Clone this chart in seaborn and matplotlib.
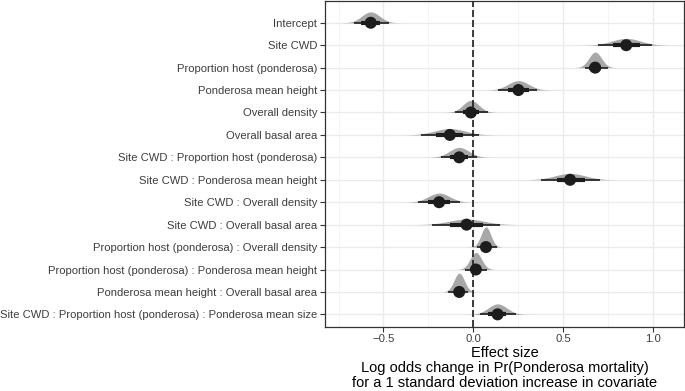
import matplotlib
matplotlib.use("Agg")
import matplotlib.pyplot as plt
import seaborn as sns
import numpy as np
import pandas as pd

# covariate labels (top to bottom)
terms = [
    "Intercept",
    "Site CWD",
    "Proportion host (ponderosa)",
    "Ponderosa mean height",
    "Overall density",
    "Overall basal area",
    "Site CWD : Proportion host (ponderosa)",
    "Site CWD : Ponderosa mean height",
    "Site CWD : Overall density",
    "Site CWD : Overall basal area",
    "Proportion host (ponderosa) : Overall density",
    "Proportion host (ponderosa) : Ponderosa mean height",
    "Ponderosa mean height : Overall basal area",
    "Site CWD : Proportion host (ponderosa) : Ponderosa mean size",
]

# posterior summaries
median = [-0.571, 0.853, 0.680, 0.252, -0.013, -0.130, -0.078, 0.540, -0.190, -0.037, 0.071, 0.015, -0.078, 0.136]
lo66 = [-0.625, 0.780, 0.645, 0.195, -0.058, -0.210, -0.128, 0.466, -0.250, -0.130, 0.045, -0.015, -0.108, 0.084]
hi66 = [-0.520, 0.930, 0.715, 0.310, 0.032, -0.056, -0.028, 0.624, -0.130, 0.056, 0.098, 0.046, -0.050, 0.183]
lo95 = [-0.667, 0.698, 0.624, 0.140, -0.100, -0.290, -0.180, 0.376, -0.307, -0.227, 0.019, -0.047, -0.140, 0.037]
hi95 = [-0.472, 0.997, 0.749, 0.354, 0.080, 0.030, 0.020, 0.708, -0.074, 0.149, 0.130, 0.078, -0.028, 0.238]
# spread of each posterior density
spread = [0.050, 0.080, 0.035, 0.058, 0.045, 0.085, 0.055, 0.086, 0.060, 0.098, 0.027, 0.032, 0.029, 0.052]

df = pd.DataFrame({"term": terms, "median": median, "lo66": lo66, "hi66": hi66,
                   "lo95": lo95, "hi95": hi95, "sd": spread})

sns.set_theme(style="whitegrid")
plt.rcParams["font.family"] = ["Liberation Sans", "DejaVu Sans"]

fig = plt.figure(figsize=(6.85, 3.91), dpi=100)
ax = fig.add_axes([325 / 685, 1 - 326.7 / 391, 359 / 685, 325.7 / 391])

dens_col = "#a8a8a8"
ink = "#1c1c1c"

# half-eye densities, normalised over all terms
xs = np.linspace(-0.9, 1.3, 800)
pdfs = [np.exp(-0.5 * ((xs - m) / s) ** 2) / s for m, s in zip(df["median"], df["sd"])]
top = max(p.max() for p in pdfs)
for i, p in enumerate(pdfs):
    h = 0.9 * p / top
    ax.fill_between(xs, i, i - h, color=dens_col, lw=0, zorder=2)

ax.hlines(range(len(df)), df["lo95"], df["hi95"], color=ink, lw=1.2, zorder=3)
ax.hlines(range(len(df)), df["lo66"], df["hi66"], color=ink, lw=3.0, zorder=3)
sns.scatterplot(data=df, x="median", y="term", ax=ax, color=ink, s=75,
                edgecolor="none", zorder=4)

ax.axvline(0, color=ink, lw=1.2, dashes=(4.2, 1.8), zorder=5)

ax.set_xlim(-0.826, 1.175)
ax.set_ylim(13.55, -0.97)
ax.set_xticks([-0.5, 0.0, 0.5, 1.0])
ax.set_xticklabels(["\u22120.5", "0.0", "0.5", "1.0"])
ax.set_xticks([-0.75, -0.25, 0.25, 0.75], minor=True)
ax.set_yticks(range(len(terms)))
ax.set_yticklabels(terms)

ax.grid(True, which="major", color="#ebebeb", lw=1.0, zorder=0)
ax.grid(True, which="minor", axis="x", color="#f2f2f2", lw=0.6, zorder=0)
ax.set_axisbelow(True)
for sp in ax.spines.values():
    sp.set_color("#333333")
    sp.set_linewidth(0.9)

ax.tick_params(axis="both", which="major", length=3.5, width=0.8, color="#333333",
               labelsize=8.1, labelcolor="#3d3d3d", pad=2, bottom=True, left=True)
ax.tick_params(axis="x", which="minor", length=0)

ax.set_ylabel("")
ax.set_xlabel("Effect size\nLog odds change in Pr(Ponderosa mortality)\nfor a 1 standard deviation increase in covariate",
              fontsize=10.5, color="black", labelpad=1, linespacing=1.1)

fig.savefig("out.png", dpi=100)
